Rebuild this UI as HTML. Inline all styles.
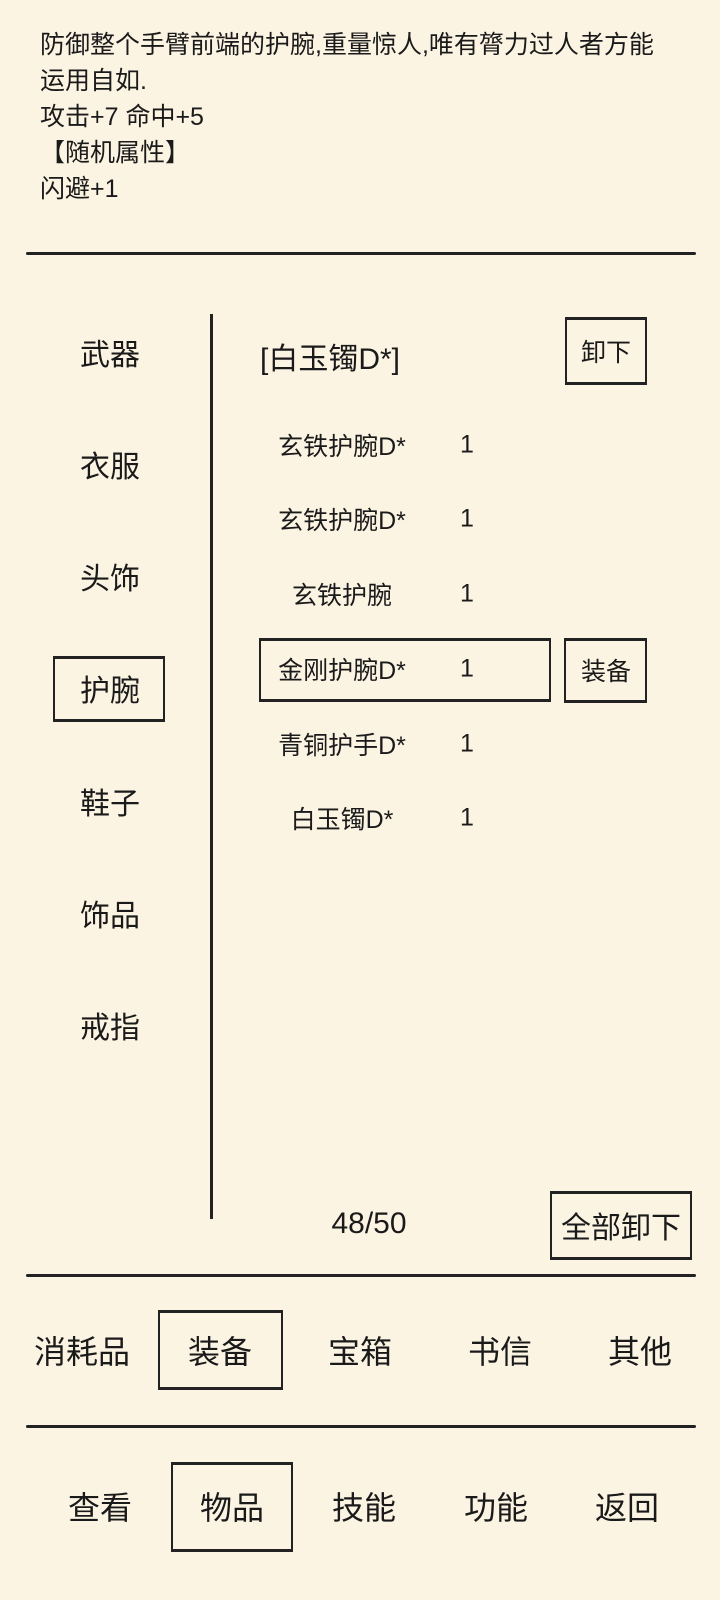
<!DOCTYPE html>
<html><head><meta charset="utf-8"><style>
body{margin:0;width:720px;height:1600px;background:#fcf4e3;font-family:"Liberation Sans","Noto Sans CJK SC",sans-serif;color:#1a1a1a;position:relative;overflow:hidden}
.a{position:absolute;white-space:nowrap}
.c{transform:translate(-50%,-50%)}
.hl{position:absolute;left:26px;width:670px;height:3px;background:#222;border-radius:2px}
.box{position:absolute;border:2px solid #222;border-top-width:3px;border-bottom-width:3px;box-sizing:border-box}
</style></head><body>
<div class="a" style="left:40px;top:27px;font-size:25px;line-height:36px">防御整个手臂前端的护腕,重量惊人,唯有膂力过人者方能<br>运用自如.<br>攻击+7 命中+5<br>【随机属性】<br>闪避+1</div>
<div class="hl" style="top:252px"></div>
<div class="hl" style="top:1274px"></div>
<div class="hl" style="top:1425px"></div>
<div class="a" style="left:210px;top:314px;width:3px;height:905px;background:#222"></div>

<div class="a c" style="left:110px;top:352px;font-size:30px">武器</div>
<div class="a c" style="left:110px;top:464px;font-size:30px">衣服</div>
<div class="a c" style="left:110px;top:576px;font-size:30px">头饰</div>
<div class="box" style="left:53px;top:656px;width:112px;height:66px"></div>
<div class="a c" style="left:110px;top:688px;font-size:30px">护腕</div>
<div class="a c" style="left:110px;top:801px;font-size:30px">鞋子</div>
<div class="a c" style="left:110px;top:913px;font-size:30px">饰品</div>
<div class="a c" style="left:110px;top:1025px;font-size:30px">戒指</div>

<div class="a" style="left:260px;top:334px;font-size:30px">[白玉镯D*]</div>
<div class="box" style="left:565px;top:317px;width:82px;height:68px"></div>
<div class="a c" style="left:606px;top:351px;font-size:25px">卸下</div>

<div class="a c" style="left:342px;top:445px;font-size:25px">玄铁护腕D*</div><div class="a c" style="left:467px;top:445px;font-size:25px">1</div>
<div class="a c" style="left:342px;top:519px;font-size:25px">玄铁护腕D*</div><div class="a c" style="left:467px;top:519px;font-size:25px">1</div>
<div class="a c" style="left:342px;top:594px;font-size:25px">玄铁护腕</div><div class="a c" style="left:467px;top:594px;font-size:25px">1</div>
<div class="box" style="left:259px;top:638px;width:292px;height:64px"></div>
<div class="a c" style="left:342px;top:669px;font-size:25px">金刚护腕D*</div><div class="a c" style="left:467px;top:669px;font-size:25px">1</div>
<div class="box" style="left:564px;top:638px;width:83px;height:65px"></div>
<div class="a c" style="left:606px;top:670px;font-size:25px">装备</div>
<div class="a c" style="left:342px;top:744px;font-size:25px">青铜护手D*</div><div class="a c" style="left:467px;top:744px;font-size:25px">1</div>
<div class="a c" style="left:342px;top:818px;font-size:25px">白玉镯D*</div><div class="a c" style="left:467px;top:818px;font-size:25px">1</div>

<div class="a c" style="left:369px;top:1224px;font-size:30px">48/50</div>
<div class="box" style="left:550px;top:1191px;width:142px;height:69px"></div>
<div class="a c" style="left:621px;top:1225px;font-size:30px">全部卸下</div>

<div class="a c" style="left:82px;top:1350px;font-size:32px">消耗品</div>
<div class="box" style="left:158px;top:1310px;width:125px;height:80px"></div>
<div class="a c" style="left:220px;top:1350px;font-size:32px">装备</div>
<div class="a c" style="left:360px;top:1350px;font-size:32px">宝箱</div>
<div class="a c" style="left:500px;top:1350px;font-size:32px">书信</div>
<div class="a c" style="left:640px;top:1350px;font-size:32px">其他</div>

<div class="a c" style="left:100px;top:1506px;font-size:32px">查看</div>
<div class="box" style="left:171px;top:1462px;width:122px;height:90px"></div>
<div class="a c" style="left:232px;top:1506px;font-size:32px">物品</div>
<div class="a c" style="left:364px;top:1506px;font-size:32px">技能</div>
<div class="a c" style="left:496px;top:1506px;font-size:32px">功能</div>
<div class="a c" style="left:627px;top:1506px;font-size:32px">返回</div>
</body></html>
